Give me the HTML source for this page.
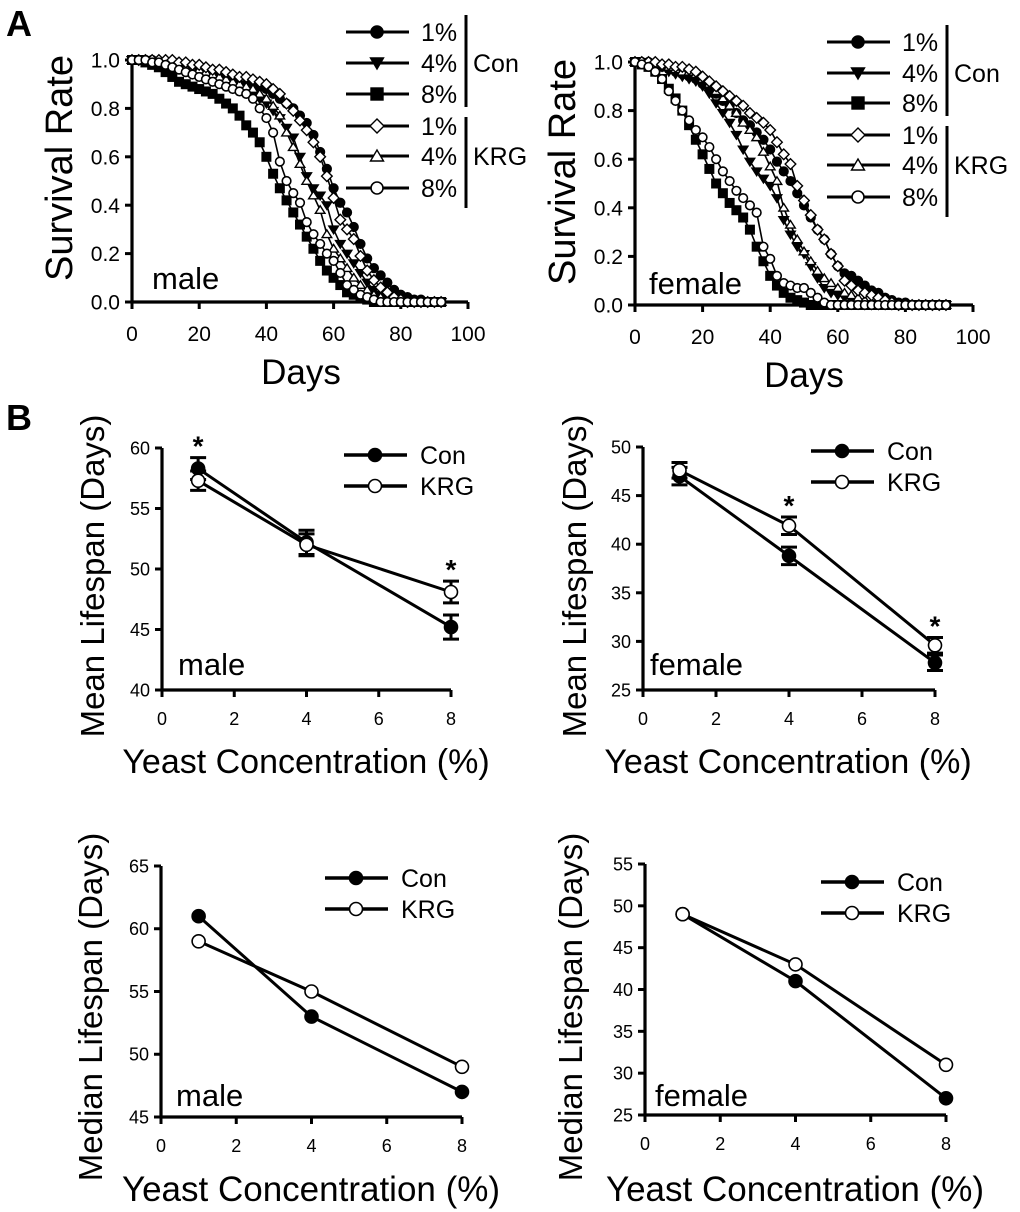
<!DOCTYPE html>
<html><head><meta charset="utf-8"><style>
html,body{margin:0;padding:0;background:#fff}
svg{display:block;font-family:"Liberation Sans",Arial,sans-serif}
</style></head><body>
<svg id="fig" width="1020" height="1212" viewBox="0 0 1020 1212" xmlns="http://www.w3.org/2000/svg">
<text x="6" y="36" font-size="36" font-weight="bold">A</text>
<text x="6" y="430" font-size="36" font-weight="bold">B</text>
</svg>
<script>
// ---------- survival data (days 0..92 step 2) ----------
const survDays = [0,2,4,6,8,10,12,14,16,18,20,22,24,26,28,30,32,34,36,38,40,42,44,46,48,50,52,54,56,58,60,62,64,66,68,70,72,74,76,78,80,82,84,86,88,90,92];
const survTicksX = [0,20,40,60,80,100];
const survTicksY = [0,0.2,0.4,0.6,0.8,1.0];
const survTickLabelsY = ["0.0","0.2","0.4","0.6","0.8","1.0"];
const maleCon1 = [1,1,1,1,.99,.99,.98,.98,.97,.97,.96,.95,.94,.93,.92,.91,.90,.90,.89,.89,.88,.86,.84,.82,.80,.77,.74,.69,.62,.55,.47,.41,.37,.31,.24,.18,.14,.11,.08,.05,.03,.02,.01,.01,0,0,0];
const maleCon4 = [1,1,1,.99,.99,.98,.97,.97,.96,.95,.94,.93,.92,.91,.90,.89,.88,.87,.86,.84,.82,.79,.76,.72,.68,.60,.52,.47,.44,.40,.30,.24,.20,.16,.12,.08,.05,.03,.02,.01,0,0,0,0,0,0,0];
const maleCon8 = [1,1,.99,.98,.97,.95,.93,.91,.90,.89,.88,.87,.86,.84,.82,.80,.77,.73,.70,.66,.60,.53,.47,.42,.37,.32,.27,.22,.17,.13,.10,.07,.04,.03,.02,.01,0,0,0,0,0,0,0,0,0,0,0];
const maleKrg1 = [1,1,1,1,1,1,1,.99,.99,.98,.98,.97,.96,.96,.95,.94,.93,.93,.92,.91,.90,.88,.86,.82,.79,.75,.71,.66,.60,.52,.43,.34,.30,.26,.19,.13,.09,.06,.04,.02,.01,0,0,0,0,0,0];
const maleKrg4 = [1,1,1,1,.99,.99,.98,.98,.97,.96,.96,.95,.94,.93,.92,.91,.90,.89,.88,.86,.84,.81,.77,.70,.64,.57,.50,.44,.38,.28,.22,.18,.14,.10,.07,.05,.03,.02,.01,0,0,0,0,0,0,0,0];
const maleKrg8 = [1,1,1,.99,.99,.98,.97,.96,.95,.94,.93,.92,.91,.90,.89,.88,.87,.86,.84,.80,.76,.70,.58,.50,.45,.41,.33,.28,.24,.20,.17,.12,.07,.05,.03,.02,.01,0,0,0,0,0,0,0,0,0,0];
const femCon1 = [1,1,1,.99,.98,.97,.96,.95,.94,.93,.91,.89,.87,.84,.82,.79,.76,.74,.71,.68,.64,.59,.55,.51,.46,.41,.36,.31,.27,.21,.16,.13,.12,.10,.08,.06,.05,.03,.02,.01,.01,0,0,0,0,0,0];
const femCon4 = [1,1,.99,.99,.98,.96,.95,.94,.93,.92,.90,.87,.83,.79,.75,.70,.64,.59,.55,.52,.49,.44,.35,.29,.24,.21,.16,.11,.07,.05,.04,.03,.02,.01,0,0,0,0,0,0,0,0,0,0,0,0,0];
const femCon8 = [1,.99,.98,.96,.93,.89,.85,.80,.74,.68,.62,.56,.50,.46,.42,.39,.36,.31,.24,.18,.12,.08,.05,.03,.02,.01,0,0,0,0,0,0,0,0,0,0,0,0,0,0,0,0,0,0,0,0,0];
const femKrg1 = [1,1,1,1,.99,.99,.98,.98,.97,.96,.94,.92,.90,.88,.86,.84,.82,.79,.77,.75,.72,.67,.62,.58,.49,.43,.37,.31,.27,.21,.16,.10,.08,.06,.05,.04,.03,.02,.01,0,0,0,0,0,0,0,0];
const femKrg4 = [1,1,1,.99,.99,.98,.97,.96,.96,.95,.93,.91,.88,.85,.82,.79,.75,.72,.69,.63,.57,.51,.40,.33,.27,.22,.18,.14,.11,.09,.07,.05,.04,.03,.02,.01,0,0,0,0,0,0,0,0,0,0,0];
const femKrg8 = [1,.99,.98,.96,.93,.88,.84,.80,.76,.72,.69,.65,.60,.55,.51,.47,.44,.41,.38,.24,.19,.12,.09,.08,.07,.07,.05,.03,.01,0,0,0,0,0,0,0,0,0,0,0,0,0,0,0,0,0,0];

// ---------- lifespan data ----------
const yeastConc = [1,4,8];
const concTicks = [0,2,4,6,8];
const meanMaleCon = [58.3,52.2,45.2];
const meanMaleConErr = [0.9,1.0,1.0];
const meanMaleKrg = [57.3,52.0,48.1];
const meanMaleKrgErr = [0.8,0.9,0.9];
const meanMaleSig = [1,0,1];
const meanFemCon = [47.0,38.8,27.8];
const meanFemConErr = [0.9,0.9,0.8];
const meanFemKrg = [47.6,41.9,29.6];
const meanFemKrgErr = [0.8,0.9,0.8];
const meanFemSig = [0,1,1];
const medMaleCon = [61,53,47];
const medMaleKrg = [59,55,49];
const medFemCon = [49,41,27];
const medFemKrg = [49,43,31];
const meanMaleTicks = [40,45,50,55,60];
const meanFemTicks = [25,30,35,40,45,50];
const medMaleTicks = [45,50,55,60,65];
const medFemTicks = [25,30,35,40,45,50,55];

const NS = "http://www.w3.org/2000/svg";
const svg = document.getElementById('fig');
function mk(tag, attrs, parent, text){
  const e = document.createElementNS(NS, tag);
  for (const k in attrs) e.setAttribute(k, attrs[k]);
  if (text !== undefined) e.textContent = text;
  (parent||svg).appendChild(e);
  return e;
}
function marker(g, shape, filled, x, y, r){
  const f = filled ? '#000' : '#fff';
  let e;
  if (shape==='circle') e = mk('circle',{cx:x,cy:y,r:r,fill:f,stroke:'#000','stroke-width':1.6},g);
  else if (shape==='square') e = mk('rect',{x:x-r,y:y-r,width:2*r,height:2*r,fill:f,stroke:'#000','stroke-width':1.4},g);
  else if (shape==='diamond') e = mk('polygon',{points:`${x},${y-r-1} ${x+r+1},${y} ${x},${y+r+1} ${x-r-1},${y}`,fill:f,stroke:'#000','stroke-width':1.4},g);
  else if (shape==='tridown') e = mk('polygon',{points:`${x-r-0.5},${y-r+1} ${x+r+0.5},${y-r+1} ${x},${y+r}`,fill:f,stroke:'#000','stroke-width':1.4},g);
  else e = mk('polygon',{points:`${x-r-0.5},${y+r-1} ${x+r+0.5},${y+r-1} ${x},${y-r}`,fill:f,stroke:'#000','stroke-width':1.4},g);
  
  
  return e;
}
function text(g, x, y, s, size, anchor, extra){
  return mk('text', Object.assign({x:x,y:y,'font-size':size+'px','text-anchor':anchor||'start'}, extra||{}), g, s);
}

function axes(g, P){
  const sx = v => P.x0 + (v-P.xmin)/(P.xmax-P.xmin)*(P.x1-P.x0);
  const sy = v => P.y0 - (v-P.ymin)/(P.ymax-P.ymin)*(P.y0-P.y1);
  const ax = mk('path',{d:`M${P.x0},${P.y1} V${P.y0} H${P.x1}`,fill:'none',stroke:'#000','stroke-width':3.2},g);
  
  
  P.xt.forEach(v=>{
    mk('line',{x1:sx(v),x2:sx(v),y1:P.y0,y2:P.y0+7,stroke:'#000','stroke-width':3},g);
    const t = text(g, sx(v), P.y0+P.xlo, String(v), P.tfs, 'middle');
    
    
  });
  P.yt.forEach((v,i)=>{
    mk('line',{x1:P.x0-7,x2:P.x0,y1:sy(v),y2:sy(v),stroke:'#000','stroke-width':3},g);
    const t = text(g, P.x0-P.ylo, sy(v)+P.tfs*0.36, P.yl ? P.yl[i] : String(v), P.tfs, 'end');
    
    
  });
  const xt = text(g, P.xtx, P.xty, P.xtitle, P.xfs, 'middle');
  
  
  const yt = text(g, 0, 0, P.ytitle, P.yfs, 'middle', {transform:`translate(${P.ytx},${P.yty}) rotate(-90)`});
  
  
  const sl = text(g, P.sexX, P.sexY, P.sex, 31);
  
  
  return {sx, sy};
}

function survPanel(P, series){
  const g = mk('g',{});
  
  
  const {sx, sy} = axes(g, P);
  series.forEach(s=>{
    const sg = mk('g',{},g);
    
    
    const pts = survDays.map((d,i)=>`${sx(d).toFixed(1)},${sy(s.v[i]).toFixed(1)}`).join(' ');
    mk('polyline',{points:pts,fill:'none',stroke:'#000','stroke-width':1.6},sg);
    survDays.forEach((d,i)=> marker(sg, s.shape, s.filled, sx(d), sy(s.v[i]), 4.3));
  });
  const L = mk('g',{},g);
  
  
  series.slice().sort((a,b)=>a.order-b.order).forEach((s,i)=>{
    const y = P.legY[i];
    const eg = mk('g',{},L);
    
    
    mk('line',{x1:P.legX0,x2:P.legX0+63,y1:y,y2:y,stroke:'#000','stroke-width':3},eg);
    marker(eg, s.shape, s.filled, P.legX0+31, y, 6);
    text(eg, P.legX0+75, y+9, s.pct, 25);
  });
  const bx = P.legX0+120;
  mk('line',{x1:bx,x2:bx,y1:P.legY[0]-17,y2:P.legY[2]+13,stroke:'#000','stroke-width':3},L);
  mk('line',{x1:bx,x2:bx,y1:P.legY[3]-9,y2:P.legY[5]+20,stroke:'#000','stroke-width':3},L);
  text(L, bx+7, P.legY[1]+9, 'Con', 25);
  text(L, bx+7, P.legY[4]+9, 'KRG', 25);
}
function survSeries(c1,c4,c8,k1,k4,k8){
  return [
    {label:'con-8',v:c8,shape:'square',filled:true,pct:'8%',order:2},
    {label:'con-4',v:c4,shape:'tridown',filled:true,pct:'4%',order:1},
    {label:'con-1',v:c1,shape:'circle',filled:true,pct:'1%',order:0},
    {label:'krg-4',v:k4,shape:'triup',filled:false,pct:'4%',order:4},
    {label:'krg-1',v:k1,shape:'diamond',filled:false,pct:'1%',order:3},
    {label:'krg-8',v:k8,shape:'circle',filled:false,pct:'8%',order:5}
  ];
}
survPanel({name:'male-survival-chart',x0:132,x1:468,y0:302,y1:60,xmin:0,xmax:100,ymin:0,ymax:1,
  xt:survTicksX,yt:survTicksY,yl:survTickLabelsY,tfs:21,xlo:39,ylo:12,xfs:35,yfs:38,
  xtitle:'Days',xtx:301,xty:384,ytitle:'Survival Rate',ytx:72,yty:168,sex:'male',sexX:152,sexY:289,
  legX0:346,legY:[32,63,94,126,156,188]}, survSeries(maleCon1,maleCon4,maleCon8,maleKrg1,maleKrg4,maleKrg8));
survPanel({name:'female-survival-chart',x0:635,x1:973,y0:305,y1:62,xmin:0,xmax:100,ymin:0,ymax:1,
  xt:survTicksX,yt:survTicksY,yl:survTickLabelsY,tfs:21,xlo:39,ylo:12,xfs:35,yfs:38,
  xtitle:'Days',xtx:804,xty:387,ytitle:'Survival Rate',ytx:575,yty:172,sex:'female',sexX:649,sexY:294,
  legX0:827,legY:[42,73,103,135,165,197]}, survSeries(femCon1,femCon4,femCon8,femKrg1,femKrg4,femKrg8));

function lifePanel(P, con, krg, conErr, krgErr, sig){
  const g = mk('g',{});
  
  
  const {sx, sy} = axes(g, P);
  [[con,conErr,true,'con'],[krg,krgErr,false,'krg']].forEach(([vals,errs,filled,lab])=>{
    const sg = mk('g',{},g);
    
    
    mk('polyline',{points:yeastConc.map((c,i)=>`${sx(c)},${sy(vals[i])}`).join(' '),fill:'none',stroke:'#000','stroke-width':3},sg);
    if (errs) yeastConc.forEach((c,i)=>{
      const x=sx(c), a=sy(vals[i]+errs[i]), b=sy(vals[i]-errs[i]);
      const eb = mk('path',{d:`M${x},${a} V${b} M${x-8},${a} H${x+8} M${x-8},${b} H${x+8}`,stroke:'#000','stroke-width':3,fill:'none'},sg);
      
      
    });
    yeastConc.forEach((c,i)=> marker(sg,'circle',filled,sx(c),sy(vals[i]),6.5));
  });
  if (sig) yeastConc.forEach((c,i)=>{
    if (!sig[i]) return;
    const top = Math.max(con[i]+conErr[i], krg[i]+krgErr[i]);
    const t = text(g, sx(c), sy(top)-2, '*', 28, 'middle', {'font-weight':'bold'});
    
    
  });
  const L = mk('g',{},g);
  
  
  [['Con',true],['KRG',false]].forEach(([lab,f],i)=>{
    const y = P.legY + i*P.legDy;
    const eg = mk('g',{},L);
    
    
    mk('line',{x1:P.legX0,x2:P.legX0+63,y1:y,y2:y,stroke:'#000','stroke-width':3.5},eg);
    marker(eg,'circle',f,P.legX0+31,y,6.5);
    text(eg, P.legX0+76, y+9, lab, 25);
  });
}
const common = {xmin:0,xmax:8,xt:concTicks,tfs:18,xlo:35,ylo:12,xfs:34,yfs:33,xtitle:'Yeast Concentration (%)'};
lifePanel(Object.assign({},common,{name:'male-mean-lifespan-chart',x0:162,x1:451,y0:690,y1:448,ymin:40,ymax:60,yt:meanMaleTicks,
  xtx:306,xty:773,ytitle:'Mean Lifespan (Days)',ytx:104,yty:576,sex:'male',sexX:178,sexY:675,legX0:344,legY:455,legDy:31}),
  meanMaleCon,meanMaleKrg,meanMaleConErr,meanMaleKrgErr,meanMaleSig);
lifePanel(Object.assign({},common,{name:'female-mean-lifespan-chart',x0:643,x1:935,y0:690,y1:447,ymin:25,ymax:50,yt:meanFemTicks,
  xtx:788,xty:773,ytitle:'Mean Lifespan (Days)',ytx:586,yty:576,sex:'female',sexX:650,sexY:675,legX0:811,legY:451,legDy:31}),
  meanFemCon,meanFemKrg,meanFemConErr,meanFemKrgErr,meanFemSig);
lifePanel(Object.assign({},common,{name:'male-median-lifespan-chart',x0:161,x1:462,y0:1117,y1:866,ymin:45,ymax:65,yt:medMaleTicks,
  xtx:311,xty:1201,xfs:35,ytitle:'Median Lifespan (Days)',ytx:102,yty:1007,sex:'male',sexX:176,sexY:1106,legX0:325,legY:878,legDy:31}),
  medMaleCon,medMaleKrg,null,null,null);
lifePanel(Object.assign({},common,{name:'female-median-lifespan-chart',x0:645,x1:946,y0:1115,y1:864,ymin:25,ymax:55,yt:medFemTicks,
  xtx:795,xty:1201,xfs:35,ytitle:'Median Lifespan (Days)',ytx:582,yty:1007,sex:'female',sexX:655,sexY:1106,legX0:821,legY:882,legDy:31}),
  medFemCon,medFemKrg,null,null,null);
</script>
</body></html>
